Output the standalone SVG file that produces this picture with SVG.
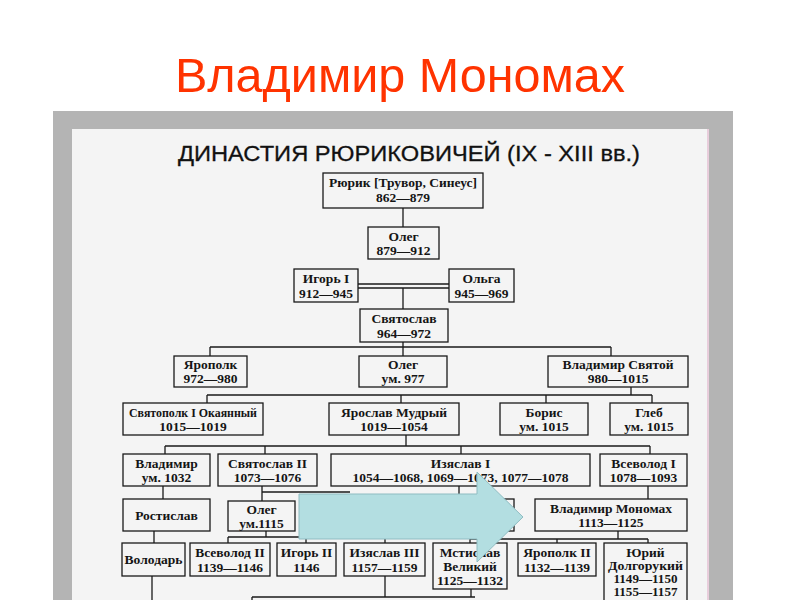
<svg xmlns="http://www.w3.org/2000/svg" width="800" height="600" viewBox="0 0 800 600">
<style>
.bx{fill:#f4f4f4;stroke:#1a1a1a;stroke-width:1.3}
.t{font-family:"Liberation Serif","Times New Roman",serif;font-weight:bold;font-size:13.5px;fill:#151515;text-anchor:middle}
.s{font-size:11.5px}
.ln{fill:none;stroke:#1a1a1a;stroke-width:1.3}
</style>
<rect width="800" height="600" fill="#ffffff"/>
<text x="400" y="92" font-family="Liberation Sans, Arial, sans-serif" font-size="48.5" fill="#ff3300" text-anchor="middle">Владимир Мономах</text>
<rect x="53" y="111" width="680" height="489" fill="#b4b4b4"/>
<rect x="72" y="129" width="636" height="471" fill="#f4f4f4"/>
<line x1="708" y1="129" x2="708" y2="600" stroke="#e8cddb" stroke-width="2"/>
<text x="409" y="161" font-family="Liberation Sans, Arial, sans-serif" font-size="22" fill="#111" stroke="#111" stroke-width="0.3" text-anchor="middle" textLength="462" lengthAdjust="spacingAndGlyphs">ДИНАСТИЯ РЮРИКОВИЧЕЙ (IX - XIII вв.)</text>

<g id="connectors" class="ln">
<path d="M403 208V227"/>
<path d="M358 284H449M358 288H449"/>
<path d="M403 288V309"/>
<path d="M403 342V347M210 347H611M210 347V356M403 347V356M611 347V356"/>
<path d="M631 387V395M207 395H652M207 395V403M401 395V403M546 395V403M652 395V403"/>
<path d="M406 435V446M165 446H650M165 446V454M265 446V454M461 446V454M650 446V454"/>
<path d="M163 486V499"/>
<path d="M262 486V501M262 492H350"/>
<path d="M459 486V494"/>
<path d="M648 486V499"/>
<path d="M154 531V543"/>
<path d="M266 531V537M228 537H306M228 537V543M306 537V543"/>
<path d="M385 531V543"/>
<path d="M618 531V539M470 539H648M470 539V543M557 539V543M648 539V543"/>
<path d="M152 576V600"/>
<path d="M385 576V597M471 589V597M252 597H475M252 597V600"/>
</g>

<g id="rurik"><rect class="bx" x="323" y="173" width="160" height="35"/><text class="t" x="403" y="187">Рюрик [Трувор, Синеус]</text><text class="t" x="403" y="202">862—879</text></g>
<g id="oleg1"><rect class="bx" x="368" y="227" width="71" height="32"/><text class="t" x="403.5" y="241">Олег</text><text class="t" x="403.5" y="255">879—912</text></g>
<g id="igor1"><rect class="bx" x="294" y="269" width="64" height="33"/><text class="t" x="326" y="283">Игорь I</text><text class="t" x="326" y="298">912—945</text></g>
<g id="olga"><rect class="bx" x="449" y="269" width="65" height="33"/><text class="t" x="481.5" y="283">Ольга</text><text class="t" x="481.5" y="298">945—969</text></g>
<g id="svyatoslav1"><rect class="bx" x="360" y="309" width="88" height="33"/><text class="t" x="404" y="323">Святослав</text><text class="t" x="404" y="338">964—972</text></g>

<g id="yaropolk1"><rect class="bx" x="174" y="356" width="73" height="31"/><text class="t" x="210.5" y="369">Ярополк</text><text class="t" x="210.5" y="383">972—980</text></g>
<g id="oleg2"><rect class="bx" x="359" y="356" width="88" height="31"/><text class="t" x="403" y="369">Олег</text><text class="t" x="403" y="383">ум. 977</text></g>
<g id="vladimir-svyatoi"><rect class="bx" x="548" y="356" width="140" height="31"/><text class="t" x="618" y="369">Владимир Святой</text><text class="t" x="618" y="383">980—1015</text></g>

<g id="svyatopolk1"><rect class="bx" x="123" y="403" width="140" height="32"/><text class="t" x="193" y="417" textLength="128" lengthAdjust="spacingAndGlyphs">Святополк I Окаянный</text><text class="t" x="193" y="431">1015—1019</text></g>
<g id="yaroslav"><rect class="bx" x="329" y="403" width="130" height="32"/><text class="t" x="394" y="417">Ярослав Мудрый</text><text class="t" x="394" y="431">1019—1054</text></g>
<g id="boris"><rect class="bx" x="500" y="403" width="88" height="32"/><text class="t" x="544" y="417">Борис</text><text class="t" x="544" y="431">ум. 1015</text></g>
<g id="gleb"><rect class="bx" x="610" y="403" width="78" height="32"/><text class="t" x="649" y="417">Глеб</text><text class="t" x="649" y="431">ум. 1015</text></g>

<g id="vladimir1032"><rect class="bx" x="123" y="454" width="87" height="32"/><text class="t" x="166.5" y="468">Владимир</text><text class="t" x="166.5" y="482">ум. 1032</text></g>
<g id="svyatoslav2"><rect class="bx" x="218" y="454" width="99" height="32"/><text class="t" x="267.5" y="468">Святослав II</text><text class="t" x="267.5" y="482">1073—1076</text></g>
<g id="izyaslav1"><rect class="bx" x="331" y="454" width="259" height="32"/><text class="t" x="460.5" y="468">Изяслав I</text><text class="t" x="460.5" y="482">1054—1068, 1069—1073, 1077—1078</text></g>
<g id="vsevolod1"><rect class="bx" x="600" y="454" width="87" height="32"/><text class="t" x="643.5" y="468">Всеволод I</text><text class="t" x="643.5" y="482">1078—1093</text></g>

<g id="rostislav"><rect class="bx" x="123" y="499" width="87" height="32"/><text class="t" x="166.5" y="520">Ростислав</text></g>
<g id="oleg1115"><rect class="bx" x="228" y="501" width="67" height="30"/><text class="t" x="261.5" y="514">Олег</text><text class="t" x="261.5" y="528">ум.1115</text></g>
<g id="hidden-box"><rect class="bx" x="345" y="499" width="169" height="32"/></g>
<g id="monomakh"><rect class="bx" x="535" y="499" width="152" height="32"/><text class="t" x="611" y="513">Владимир Мономах</text><text class="t" x="611" y="527">1113—1125</text></g>

<g id="volodar"><rect class="bx" x="122" y="543" width="63" height="33"/><text class="t" x="153.5" y="564" textLength="58" lengthAdjust="spacingAndGlyphs">Володарь</text></g>
<g id="vsevolod2"><rect class="bx" x="190" y="543" width="80" height="33"/><text class="t" x="230" y="557">Всеволод II</text><text class="t" x="230" y="572">1139—1146</text></g>
<g id="igor2"><rect class="bx" x="277" y="543" width="59" height="33"/><text class="t" x="306.5" y="557">Игорь II</text><text class="t" x="306.5" y="572">1146</text></g>
<g id="izyaslav3"><rect class="bx" x="344" y="543" width="81" height="33"/><text class="t" x="384.5" y="557">Изяслав III</text><text class="t" x="384.5" y="572">1157—1159</text></g>
<g id="mstislav"><rect class="bx" x="433" y="543" width="74" height="46"/><text class="t" x="470" y="557">Мстислав</text><text class="t" x="470" y="571">Великий</text><text class="t" x="470" y="585">1125—1132</text></g>
<g id="yaropolk2"><rect class="bx" x="518" y="543" width="78" height="33"/><text class="t" x="557" y="557">Ярополк II</text><text class="t" x="557" y="572">1132—1139</text></g>
<g id="yuri"><rect class="bx" x="604" y="543" width="83" height="70"/><text class="t" x="645.5" y="557">Юрий</text><text class="t s" x="645.5" y="570" textLength="75" lengthAdjust="spacingAndGlyphs">Долгорукий</text><text class="t s" x="645.5" y="583" textLength="64" lengthAdjust="spacingAndGlyphs">1149—1150</text><text class="t s" x="645.5" y="596" textLength="64" lengthAdjust="spacingAndGlyphs">1155—1157</text></g>

<g id="arrow"><polygon points="299,494 477,494 477,472 523,517 477,562 477,539 299,539" fill="#b3dee1" stroke="#8fbcc2" stroke-width="1"/></g>
</svg>
